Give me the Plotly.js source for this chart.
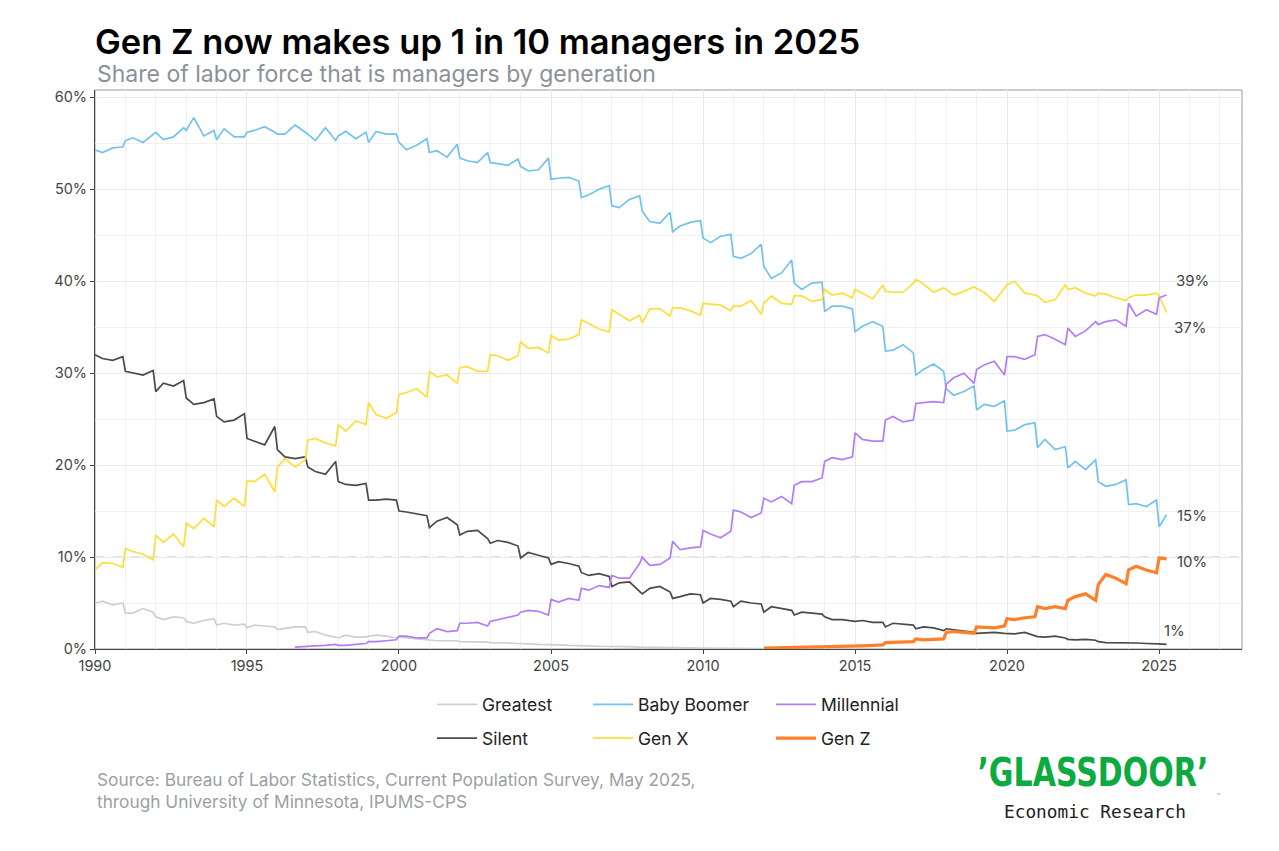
<!DOCTYPE html>
<html>
<head>
<meta charset="utf-8">
<script src="https://cdn.plot.ly/plotly-3.0.1.min.js"></script>
<style>
  html, body { margin: 0; padding: 0; background: #ffffff; }
  #chart { width: 1279px; height: 851px; }
</style>
</head>
<body>
<div id="chart"></div>
<script>
// ---------- DATA ----------
// Four readings per year: early Jan, Apr, Aug, Dec; 2025 has Jan and Apr only.
const years = [1990,1991,1992,1993,1994,1995,1996,1997,1998,1999,2000,2001,2002,2003,2004,2005,2006,2007,2008,2009,2010,2011,2012,2013,2014,2015,2016,2017,2018,2019,2020,2021,2022,2023,2024,2025];
const months = ["01","04","08","12"];

const greatest = [
  5.0,5.2,4.8,5.0, 3.9,3.9,4.4,4.0, 3.5,3.2,3.5,3.4, 3.0,2.8,3.1,3.3, 2.6,2.8,2.6,2.7,
  2.3,2.6,2.5,2.4, 2.1,2.2,2.4,2.4, 1.8,1.9,1.5,1.3, 1.2,1.5,1.3,1.3, 1.4,1.5,1.4,1.2,
  1.3,1.2,1.1,1.0, 1.0,0.9,0.9,0.9, 0.8,0.8,0.8,0.75, 0.7,0.7,0.65,0.6, 0.6,0.55,0.5,0.5,
  0.5,0.45,0.4,0.4, 0.35,0.35,0.3,0.3, 0.3,0.25,0.25,0.2, 0.2,0.2,0.18,0.15, 0.15,0.12,0.12,0.1,
  0.1,0.1,0.08,0.08, 0.07,0.06,0.05,0.05,
  null,null,null,null, null,null,null,null, null,null,null,null, null,null,null,null,
  null,null,null,null, null,null,null,null, null,null,null,null, null,null,null,null,
  null,null,null,null, null,null,null,null, null,null,null,null, null,null,null,null,
  null,null,null,null, null,null
];

const silent = [
  32.0,31.6,31.4,31.8, 30.2,30.0,29.8,30.3, 28.0,28.9,28.6,29.2, 27.3,26.6,26.8,27.2, 25.3,24.7,24.9,25.6,
  22.9,22.6,22.2,24.2, 21.7,20.9,20.7,20.9, 19.8,19.3,19.0,20.4, 18.2,17.9,17.8,18.0, 16.2,16.2,16.3,16.2,
  15.0,14.9,14.7,14.5, 13.2,13.9,14.3,13.5, 12.4,12.8,12.9,12.0, 11.5,11.8,11.6,11.2, 9.9,10.5,10.2,9.9,
  9.2,9.5,9.3,9.0, 8.3,8.0,8.2,7.9, 6.8,7.2,7.3,6.2, 6.0,6.6,6.8,6.2, 5.5,5.7,6.0,5.9,
  5.0,5.5,5.4,5.2, 4.6,5.2,5.0,4.9, 4.0,4.6,4.4,4.2, 3.7,4.0,3.9,3.8, 3.5,3.2,3.2,3.1,
  3.0,3.1,2.9,2.9, 2.4,2.8,2.7,2.6, 2.2,2.4,2.3,2.0, 2.2,2.1,1.9,1.8, 1.7,1.75,1.8,1.7,
  1.7,1.65,1.8,1.5, 1.35,1.3,1.4,1.2, 1.05,1.0,1.05,0.95, 0.8,0.7,0.7,0.7, 0.65,0.65,0.6,0.6,
  0.55,0.5
];

const babyBoomer = [
  54.3,54.0,54.5,54.6, 55.3,55.6,55.1,56.0, 56.2,55.4,55.7,56.7, 56.4,57.8,55.8,56.4, 55.4,56.6,55.7,55.7,
  56.2,56.4,56.8,56.2, 56.0,56.0,57.0,56.2, 56.0,55.3,56.7,55.3, 55.8,56.3,55.5,56.2, 55.1,56.3,56.0,56.0,
  55.1,54.3,54.8,55.5, 54.0,54.2,53.5,54.9, 53.4,53.1,52.9,54.0, 52.9,52.8,52.6,53.3, 52.5,52.0,52.1,53.4,
  51.1,51.2,51.3,50.9, 49.1,49.4,50.0,50.4, 48.2,48.0,48.9,49.3, 47.6,46.5,46.3,47.5, 45.4,46.0,46.4,46.6,
  44.7,44.2,44.9,45.1, 42.7,42.5,43.0,44.0, 41.6,40.3,40.9,42.3, 39.8,39.1,39.8,39.9, 36.7,37.3,37.3,37.0,
  34.5,35.1,35.6,35.1, 32.4,32.5,33.1,32.2, 29.8,30.4,31.0,30.2, 28.3,27.6,28.0,28.6, 26.0,26.6,26.4,27.0,
  23.7,23.8,24.4,24.6, 21.9,22.8,21.7,22.0, 19.7,20.4,19.5,20.6, 18.2,17.7,17.9,18.4, 15.7,15.8,15.5,16.2,
  13.3,14.6
];

const genX = [
  8.6,9.4,9.3,8.9, 10.9,10.6,10.3,9.7, 12.4,11.6,12.5,11.1, 13.7,13.1,14.2,13.3, 16.2,15.5,16.4,15.5,
  18.3,18.2,19.0,17.1, 19.8,20.7,19.8,20.6, 22.7,22.9,22.4,22.1, 24.4,23.7,24.8,24.4, 26.8,25.5,25.1,25.7,
  27.7,27.9,28.3,27.4, 30.2,29.6,29.8,28.9, 30.6,30.7,30.2,30.2, 32.0,31.9,31.4,31.9, 33.4,32.7,32.8,32.2,
  34.1,33.6,33.7,34.2, 35.8,35.4,34.8,34.5, 36.9,36.4,35.7,36.3, 35.5,37.0,37.0,36.2, 37.1,37.1,36.8,36.3,
  37.6,37.5,37.4,36.8, 37.3,37.3,37.9,36.4, 37.6,38.4,37.6,37.5, 38.4,38.4,37.8,38.0, 39.1,38.5,38.7,38.2,
  39.1,38.7,38.1,39.6, 38.9,38.8,38.8,39.8, 40.2,39.7,38.8,39.3, 39.1,38.5,38.9,39.4, 39.2,38.8,37.8,39.3,
  39.6,40.0,38.7,38.5, 38.4,37.7,38.0,39.6, 39.1,39.3,38.7,38.4, 38.7,38.6,38.2,37.9, 38.2,38.5,38.5,38.7,
  38.4,36.6
];

const millennial = [
  null,null,null,null, null,null,null,null, null,null,null,null, null,null,null,null, null,null,null,null,
  null,null,null,null, null,null,0.2,0.3, 0.3,0.35,0.4,0.5, 0.4,0.4,0.5,0.6, 0.8,0.8,0.9,1.0,
  1.4,1.4,1.2,1.2, 1.7,2.2,1.9,2.0, 2.8,2.8,2.9,2.5, 3.0,3.2,3.5,3.7, 4.0,4.2,4.1,3.7,
  5.4,5.1,5.5,5.3, 6.6,6.4,6.9,6.7, 8.0,7.7,7.7,9.3, 10.0,9.1,9.2,9.9, 11.7,10.8,11.0,11.1,
  12.9,12.5,12.1,12.8, 15.1,14.9,14.3,14.8, 16.4,16.0,16.6,15.8, 17.8,18.2,18.2,18.6, 20.4,20.8,20.6,20.9,
  23.5,22.8,22.6,22.6, 24.9,25.3,24.7,24.9, 26.7,26.8,26.9,26.8, 28.8,29.5,30.0,28.9, 30.4,30.9,31.3,29.8,
  31.8,31.8,31.5,32.0, 34.0,34.2,33.7,33.1, 34.9,34.0,34.6,35.6, 35.3,35.6,35.8,35.1, 37.6,36.2,36.9,36.4,
  38.2,38.5
];

const genZ = [
  null,null,null,null, null,null,null,null, null,null,null,null, null,null,null,null, null,null,null,null,
  null,null,null,null, null,null,null,null, null,null,null,null, null,null,null,null, null,null,null,null,
  null,null,null,null, null,null,null,null, null,null,null,null, null,null,null,null, null,null,null,null,
  null,null,null,null, null,null,null,null, null,null,null,null, null,null,null,null, null,null,null,null,
  null,null,null,null, null,null,null,null, 0.1,0.12,0.14,0.15, 0.15,0.16,0.18,0.2, 0.2,0.22,0.25,0.25,
  0.3,0.35,0.4,0.45, 0.7,0.75,0.8,0.8, 1.1,1.0,1.05,1.1, 1.8,1.9,1.8,1.7, 2.4,2.35,2.3,2.5,
  3.3,3.2,3.4,3.5, 4.6,4.4,4.6,4.4, 5.3,5.7,6.0,5.3, 7.0,8.1,7.7,7.1, 8.6,9.0,8.6,8.3,
  9.9,9.8
];

const seriesNames = ["Greatest","Silent","Baby Boomer","Gen X","Millennial","Gen Z"];
const yTickVals = [0,10,20,30,40,50,60];
const yTickText = ["0%","10%","20%","30%","40%","50%","60%"];
const xTickYears = [1990,1995,2000,2005,2010,2015,2020,2025];

// ---------- BUILD ----------
const dates = [];
years.forEach(y => {
  months.forEach(m => {
    if (y === 2025 && (m === "08" || m === "12")) return;
    dates.push(y + "-" + m + "-01");
  });
});

const colors = {
  "Greatest": "#cfcfcf",
  "Silent": "#4a4a4a",
  "Baby Boomer": "#72c2ee",
  "Gen X": "#fcdf3a",
  "Millennial": "#b47cf6",
  "Gen Z": "#ff7f2a"
};
const values = {
  "Greatest": greatest, "Silent": silent, "Baby Boomer": babyBoomer,
  "Gen X": genX, "Millennial": millennial, "Gen Z": genZ
};
// legend columns (ggplot-style 2 rows x 3 columns)
const legendOf = {
  "Greatest": "legend", "Silent": "legend",
  "Baby Boomer": "legend2", "Gen X": "legend2",
  "Millennial": "legend3", "Gen Z": "legend3"
};

const traces = seriesNames.map(n => ({
  type: "scatter",
  mode: "lines",
  name: n,
  x: dates,
  y: values[n],
  legend: legendOf[n],
  legendgroup: n,
  line: { color: colors[n], width: n === "Gen Z" ? 3.2 : 1.7 },
  connectgaps: false,
  hoverinfo: "skip"
}));

// pixel helpers for placing page texts (plot area: top 90, bottom 649, left 95, width 1147)
const PLOT_T = 90, PLOT_B = 649, PLOT_L = 95, PLOT_W = 1147;
const py = ypx => (PLOT_B - ypx) / (PLOT_B - PLOT_T);
const px = xpx => (xpx - PLOT_L) / PLOT_W;

// end labels (ggrepel-like placement offsets, style only)
const labelPlace = {
  "Millennial": { x: "2025-07-01", dy: 1.6 },
  "Gen X": { x: "2025-06-01", dy: -1.6 },
  "Baby Boomer": { x: "2025-07-10", dy: -0.1 },
  "Gen Z": { x: "2025-07-10", dy: -0.3 },
  "Silent": { x: "2025-02-10", dy: 1.5 }
};
const lastVal = arr => { for (let i = arr.length - 1; i >= 0; i--) if (arr[i] != null) return arr[i]; return null; };

const annotations = [];
Object.keys(labelPlace).forEach(n => {
  const v = lastVal(values[n]);
  annotations.push({
    xref: "x", yref: "y", x: labelPlace[n].x, y: v + labelPlace[n].dy,
    text: Math.round(v) + "%", showarrow: false, xanchor: "left", yanchor: "middle",
    font: { family: "Inter, Roboto, sans-serif", size: 15, color: "#444444" }
  });
});

annotations.push({
  xref: "paper", yref: "paper", x: 0, y: py(73.5), xanchor: "left", yanchor: "middle",
  text: "Share of labor force that is managers by generation", showarrow: false,
  font: { family: "Inter, Roboto, sans-serif", size: 23, color: "#8c9199" }
});
annotations.push({
  xref: "paper", yref: "paper", x: 0, y: py(767), xanchor: "left", yanchor: "top",
  align: "left",
  text: "Source: Bureau of Labor Statistics, Current Population Survey, May 2025,<br>through University of Minnesota, IPUMS-CPS",
  showarrow: false,
  font: { family: "Inter, Roboto, sans-serif", size: 17.3, color: "#9a9fa6" }
});
annotations.push({
  xref: "paper", yref: "paper", x: px(1093), y: py(772), xanchor: "center", yanchor: "middle",
  text: "<b>’GLASSDOOR’</b>", showarrow: false,
  font: { family: "DejaVu Sans, sans-serif", size: 39, color: "#0caa41" }
});
annotations.push({
  xref: "paper", yref: "paper", x: px(1218), y: py(795), xanchor: "center", yanchor: "middle",
  text: "™", showarrow: false,
  font: { family: "DejaVu Sans", size: 5, color: "#0caa41" }
});
annotations.push({
  xref: "paper", yref: "paper", x: px(1095), y: py(811), xanchor: "center", yanchor: "middle",
  text: "Economic Research", showarrow: false,
  font: { family: "DejaVu Sans Mono, Liberation Mono, monospace", size: 17.8, color: "#222222" }
});

const legendCommon = {
  orientation: "v", xanchor: "left", yref: "container", y: 1 - 721.5/851, yanchor: "middle",
  itemwidth: 40, tracegroupgap: 8,
  font: { size: 17.5, color: "#222222" }, bgcolor: "rgba(0,0,0,0)"
};

const layout = {
  width: 1279, height: 851,
  paper_bgcolor: "#ffffff", plot_bgcolor: "#ffffff",
  margin: { l: 95, r: 37, t: 90, b: 202 },
  font: { family: "Inter, Roboto, sans-serif", color: "#333333" },
  title: {
    text: "Gen Z now makes up 1 in 10 managers in 2025",
    x: 0, xref: "paper", xanchor: "left",
    y: 1 - 41.5/851, yref: "container", yanchor: "middle",
    font: { family: "Inter, Roboto, sans-serif", size: 34.5, color: "#000000", weight: 600 }
  },
  xaxis: {
    type: "date",
    range: ["1990-01-01", "2027-09-24"],
    tickvals: xTickYears.map(y => y + "-01-01"),
    ticktext: xTickYears.map(String),
    showgrid: true, gridcolor: "#e9e9e9", gridwidth: 1,
    minor: { dtick: "M12", tick0: "1990-01-01", showgrid: true, gridcolor: "#f1f1f1", gridwidth: 1 },
    showline: true, linecolor: "#444444", linewidth: 1,
    ticks: "outside", ticklen: 4, tickcolor: "#444444",
    tickfont: { size: 14.5, color: "#444444" },
    zeroline: false, fixedrange: true
  },
  yaxis: {
    range: [0, 60.8],
    tickvals: yTickVals, ticktext: yTickText,
    showgrid: true, gridcolor: "#e9e9e9", gridwidth: 1,
    minor: { dtick: 5, tick0: 0, showgrid: true, gridcolor: "#f1f1f1", gridwidth: 1 },
    showline: true, linecolor: "#444444", linewidth: 1,
    ticks: "outside", ticklen: 4, tickcolor: "#444444",
    tickfont: { size: 14.5, color: "#444444" },
    zeroline: false, fixedrange: true
  },
  shapes: [
    { type: "rect", xref: "paper", yref: "paper", x0: 0, x1: 1, y0: 0, y1: 1,
      line: { color: "#9a9a9a", width: 1 }, layer: "below" },
    { type: "line", xref: "paper", yref: "y", x0: 0, x1: 1, y0: 10, y1: 10,
      line: { color: "#c4c4c4", width: 1.3, dash: "dash" }, layer: "below" }
  ],
  showlegend: true,
  legend: Object.assign({}, legendCommon, { x: px(432) }),
  legend2: Object.assign({}, legendCommon, { x: px(588) }),
  legend3: Object.assign({}, legendCommon, { x: px(771) }),
  annotations: annotations
};

Plotly.newPlot("chart", traces, layout, { displayModeBar: false, staticPlot: true }).then(() => {
  // squeeze the wordmark to its condensed width
  document.querySelectorAll("#chart .annotation-text").forEach(t => {
    if (t.textContent.indexOf("GLASSDOOR") >= 0) {
      t.setAttribute("textLength", "231");
      t.setAttribute("lengthAdjust", "spacingAndGlyphs");
    }
  });
});
</script>
</body>
</html>
